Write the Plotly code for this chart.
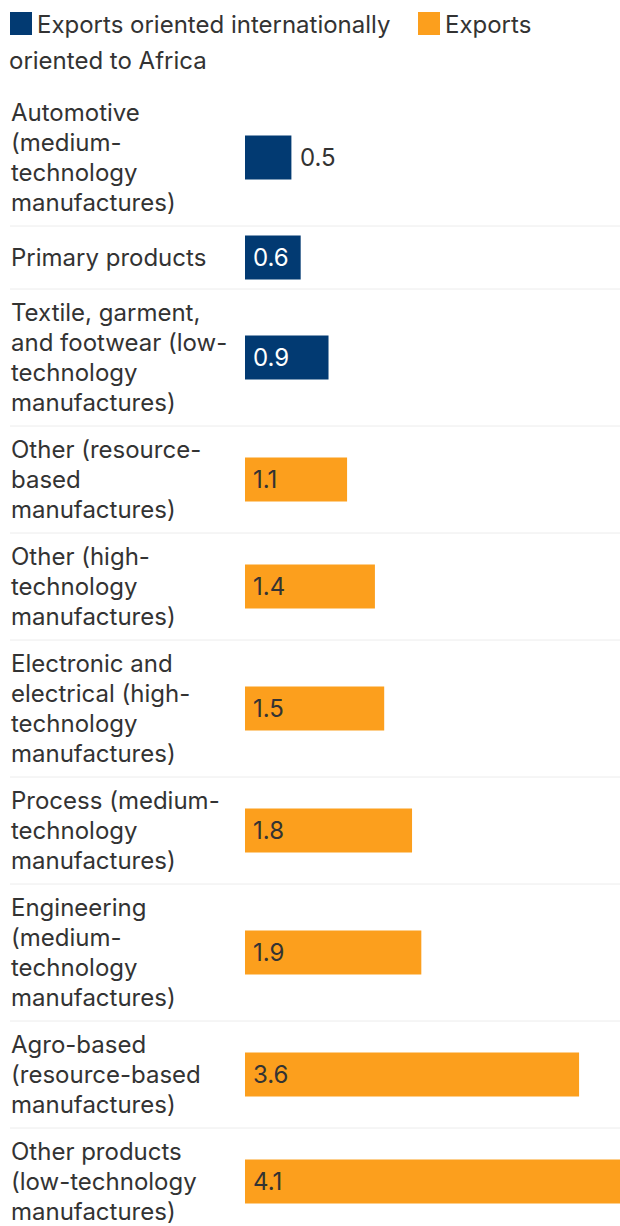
import plotly.graph_objects as go

# ---- data ----
categories = [
    "Automotive<br>(medium-<br>technology<br>manufactures)",
    "Primary products",
    "Textile, garment,<br>and footwear (low-<br>technology<br>manufactures)",
    "Other (resource-<br>based<br>manufactures)",
    "Other (high-<br>technology<br>manufactures)",
    "Electronic and<br>electrical (high-<br>technology<br>manufactures)",
    "Process (medium-<br>technology<br>manufactures)",
    "Engineering<br>(medium-<br>technology<br>manufactures)",
    "Agro-based<br>(resource-based<br>manufactures)",
    "Other products<br>(low-technology<br>manufactures)",
]
values = [0.5, 0.6, 0.9, 1.1, 1.4, 1.5, 1.8, 1.9, 3.6, 4.1]
series = ["intl", "intl", "intl", "africa", "africa", "africa", "africa", "africa", "africa", "africa"]
series_names = {"intl": "Exports oriented internationally", "africa": "Exports oriented to Africa"}

# ---- style / layout ----
W, H = 620, 1226
NAVY = "#023a72"
ORANGE = "#fc9f1d"
TEXT = "#333333"
FONT = "Inter, 'Noto Sans', sans-serif"
FS = 24
PLOT_LEFT = 245
PX_PER_UNIT = 92.8
LINE_H = 30
BAR_H = 44
TOP0 = 89

# row geometry from label line counts
tops, centers, heights = [], [], []
y = TOP0
for lab in categories:
    n = lab.count("<br>") + 1
    h = max(LINE_H * n, 46) + 17
    tops.append(y)
    heights.append(h)
    centers.append(y + h / 2)
    y += h

fig = go.Figure()
for key, color in [("intl", NAVY), ("africa", ORANGE)]:
    idx = [i for i, s in enumerate(series) if s == key]
    fig.add_trace(go.Bar(
        x=[values[i] for i in idx],
        y=[centers[i] for i in idx],
        orientation="h",
        width=BAR_H,
        marker=dict(color=color, line=dict(width=0)),
        name=series_names[key],
        showlegend=False,
        hoverinfo="x",
    ))

annotations = []
shapes = []
# category labels (one annotation per wrapped line, 30px apart)
for lab, c in zip(categories, centers):
    lines = lab.split("<br>")
    n = len(lines)
    for k, line in enumerate(lines):
        annotations.append(dict(
            x=9 / W, xref="paper", y=c + (k - (n - 1) / 2) * LINE_H, yref="y",
            text=line, showarrow=False,
            xanchor="left", yanchor="middle", align="left",
            font=dict(family=FONT, size=FS, color=TEXT),
        ))
# value labels
for v, c, s in zip(values, centers, series):
    bar_px = v * PX_PER_UNIT
    outside = bar_px < 50
    annotations.append(dict(
        x=v if outside else 0, xref="x", y=c, yref="y",
        text=f"{v:.1f}", showarrow=False, xanchor="left", yanchor="middle",
        xshift=7 if outside else 6,
        font=dict(family=FONT, size=FS,
                  color=TEXT if (outside or s == "africa") else "white"),
    ))
# separators
for t in tops[1:]:
    shapes.append(dict(type="line", xref="paper", x0=10 / W, x1=1, yref="y", y0=t, y1=t,
                       line=dict(color="#ececec", width=1)))

# legend (manual, wrapped like the reference)
shapes.append(dict(type="rect", xref="paper", yref="y", x0=10 / W, x1=32 / W, y0=12, y1=35,
                   fillcolor=NAVY, line=dict(width=0)))
shapes.append(dict(type="rect", xref="paper", yref="y", x0=418 / W, x1=440 / W, y0=12, y1=35,
                   fillcolor=ORANGE, line=dict(width=0)))
annotations.append(dict(x=35 / W, xref="paper", y=24, yref="y", text=series_names["intl"],
                        showarrow=False, xanchor="left", yanchor="middle",
                        font=dict(family=FONT, size=FS, color=TEXT)))
annotations.append(dict(x=443 / W, xref="paper", y=24, yref="y", text="Exports",
                        showarrow=False, xanchor="left", yanchor="middle",
                        font=dict(family=FONT, size=FS, color=TEXT)))
annotations.append(dict(x=7 / W, xref="paper", y=60, yref="y", text="oriented to Africa",
                        showarrow=False, xanchor="left", yanchor="middle",
                        font=dict(family=FONT, size=FS, color=TEXT)))

fig.update_layout(
    width=W, height=H,
    margin=dict(l=0, r=0, t=0, b=0),
    paper_bgcolor="white", plot_bgcolor="white",
    barmode="overlay",
    xaxis=dict(domain=[PLOT_LEFT / W, 1], range=[0, (W - PLOT_LEFT) / PX_PER_UNIT],
               visible=False, fixedrange=True),
    yaxis=dict(range=[H, 0], visible=False, fixedrange=True),
    annotations=annotations,
    shapes=shapes,
    font=dict(family=FONT, color=TEXT),
)

fig.write_html("out.html", post_script="document.body.style.margin='0';",
               config={"displayModeBar": False})
